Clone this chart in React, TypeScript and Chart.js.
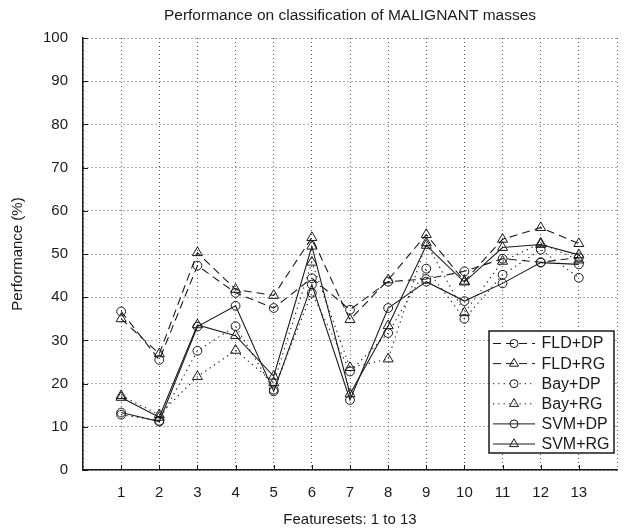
import { useEffect, useRef } from 'react';
import { Chart, registerables } from 'chart.js';

Chart.register(...registerables);

const TITLE = 'Performance on classification of MALIGNANT masses';
const X_TITLE = 'Featuresets: 1 to 13';
const Y_TITLE = 'Performance (%)';

const categories = [1, 2, 3, 4, 5, 6, 7, 8, 9, 10, 11, 12, 13];
const fldDp = [36.7, 25.5, 47.3, 41.0, 37.5, 44.4, 37.1, 43.6, 44.2, 46.0, 48.9, 48.1, 49.2];
const fldRg = [35.0, 26.9, 50.3, 41.8, 40.4, 53.8, 34.8, 44.0, 54.5, 43.7, 53.4, 56.1, 52.4];
const bayDp = [12.8, 11.4, 27.6, 33.3, 18.6, 41.0, 22.8, 31.7, 46.6, 35.0, 45.2, 51.0, 44.5];
const bayRg = [17.2, 12.8, 21.6, 27.7, 20.2, 48.1, 23.7, 25.7, 52.6, 36.4, 48.3, 52.5, 48.6];
const svmDp = [13.3, 11.2, 33.2, 38.0, 18.2, 42.9, 16.2, 37.5, 43.6, 39.1, 43.2, 48.0, 47.6];
const svmRg = [16.8, 12.2, 33.6, 31.1, 21.7, 51.8, 17.6, 33.4, 52.0, 43.5, 51.5, 52.2, 49.8];
const yTicks = [0, 10, 20, 30, 40, 50, 60, 70, 80, 90, 100];

const INK = '#1a1a1a';
const FONT = '"Liberation Sans", Arial, Helvetica, sans-serif';
const DASHED = [8, 5];
const DOTTED = [1.3, 4];

type Series = { label: string; values: number[]; dash: number[]; style: 'circle' | 'triangle' };
const series: Series[] = [
  { label: 'FLD+DP', values: fldDp, dash: DASHED, style: 'circle' },
  { label: 'FLD+RG', values: fldRg, dash: DASHED, style: 'triangle' },
  { label: 'Bay+DP', values: bayDp, dash: DOTTED, style: 'circle' },
  { label: 'Bay+RG', values: bayRg, dash: DOTTED, style: 'triangle' },
  { label: 'SVM+DP', values: svmDp, dash: [], style: 'circle' },
  { label: 'SVM+RG', values: svmRg, dash: [], style: 'triangle' },
];

function marker(ctx: CanvasRenderingContext2D, style: string, x: number, y: number, r: number) {
  ctx.beginPath();
  if (style === 'circle') {
    ctx.arc(x, y, r, 0, Math.PI * 2);
  } else {
    let a = 0;
    ctx.moveTo(x + Math.sin(a) * r, y - Math.cos(a) * r);
    a += (2 * Math.PI) / 3;
    ctx.lineTo(x + Math.sin(a) * r, y - Math.cos(a) * r);
    a += (2 * Math.PI) / 3;
    ctx.lineTo(x + Math.sin(a) * r, y - Math.cos(a) * r);
    ctx.closePath();
  }
  ctx.stroke();
}

const decor = {
  id: 'decor',
  afterDraw(chart: any) {
    const ctx: CanvasRenderingContext2D = chart.ctx;
    const { left, right, bottom } = chart.chartArea;
    const xs = chart.scales.x;
    const ys = chart.scales.y;
    ctx.save();
    // inward tick marks
    ctx.strokeStyle = INK;
    ctx.lineWidth = 1;
    ctx.setLineDash([]);
    ctx.beginPath();
    for (const c of categories) {
      const px = Math.round(xs.getPixelForValue(c)) + 0.5;
      ctx.moveTo(px, bottom);
      ctx.lineTo(px, bottom - 5);
    }
    for (const v of yTicks) {
      const py = Math.round(ys.getPixelForValue(v)) + 0.5;
      ctx.moveTo(left, py);
      ctx.lineTo(left + 5, py);
    }
    ctx.stroke();

    // title
    ctx.fillStyle = INK;
    ctx.font = `15.5px ${FONT}`;
    ctx.textAlign = 'center';
    ctx.textBaseline = 'middle';
    ctx.fillText(TITLE, (left + right) / 2, 15.5);

    // legend
    const bx = 489, by = 331, bw = 125, bh = 122;
    ctx.fillStyle = '#ffffff';
    ctx.fillRect(bx, by, bw, bh);
    ctx.lineWidth = 1.5;
    ctx.strokeRect(bx, by, bw, bh);
    ctx.font = `16px ${FONT}`;
    ctx.textAlign = 'left';
    series.forEach((s, i) => {
      const y = by + 12.5 + i * 20.1;
      ctx.lineWidth = 1;
      ctx.setLineDash(s.dash);
      ctx.beginPath();
      ctx.moveTo(bx + 4, y);
      ctx.lineTo(bx + 46, y);
      ctx.stroke();
      ctx.setLineDash([]);
      marker(ctx, s.style, bx + 25, y, s.style === 'circle' ? 4 : 5.2);
      ctx.fillStyle = INK;
      ctx.fillText(s.label, bx + 52.5, y + 0.5);
    });
    ctx.restore();
  },
};

export default function App() {
  const ref = useRef<HTMLCanvasElement | null>(null);
  useEffect(() => {
    if (!ref.current) return;
    const chart = new Chart(ref.current, {
      type: 'line',
      data: {
        datasets: series.map((s) => ({
          label: s.label,
          data: categories.map((c, i) => ({ x: c, y: s.values[i] })),
          borderColor: INK,
          borderWidth: 1.1,
          borderDash: s.dash,
          backgroundColor: 'rgba(0,0,0,0)',
          pointStyle: s.style,
          pointRadius: s.style === 'circle' ? 4.4 : 5.8,
          pointBorderColor: INK,
          pointBackgroundColor: 'rgba(0,0,0,0)',
          pointBorderWidth: 1,
          tension: 0,
          fill: false,
        })),
      },
      plugins: [decor],
      options: {
        animation: false,
        responsive: false,
        devicePixelRatio: 1,
        layout: { padding: { left: 0, right: 2, top: 38, bottom: 0 } },
        plugins: { legend: { display: false }, title: { display: false }, tooltip: { enabled: false } },
        scales: {
          x: {
            type: 'linear',
            min: 0,
            max: 14,
            afterFit: (scale: any) => {
              scale.height = 60;
            },
            ticks: {
              stepSize: 1,
              autoSkip: false,
              maxRotation: 0,
              padding: 14,
              color: INK,
              font: { family: FONT, size: 15 },
              callback: (v: any) => (categories.includes(Number(v)) ? String(v) : ''),
            },
            grid: { color: '#555', lineWidth: 1, drawTicks: false },
            border: { display: true, color: INK, width: 1.5, dash: [1, 3] },
            title: {
              display: true,
              text: X_TITLE,
              color: INK,
              font: { family: FONT, size: 15 },
              padding: { top: 0, bottom: 1 },
            },
          },
          y: {
            type: 'linear',
            min: 0,
            max: 100,
            afterFit: (scale: any) => {
              scale.width = 83;
            },
            afterBuildTicks: (scale: any) => {
              scale.ticks = yTicks.map((v) => ({ value: v }));
            },
            ticks: {
              padding: 15,
              color: INK,
              font: { family: FONT, size: 15 },
            },
            grid: { color: '#555', lineWidth: 1, drawTicks: false },
            border: { display: true, color: INK, width: 1.5, dash: [1, 3] },
            title: {
              display: true,
              text: Y_TITLE,
              color: INK,
              font: { family: FONT, size: 15 },
              padding: { top: 9, bottom: 0 },
            },
          },
        },
      },
    });
    return () => chart.destroy();
  }, []);
  return (
    <div style={{ position: 'fixed', left: 0, top: 0, width: 631, height: 530, background: '#fff' }}>
      <canvas ref={ref} width={631} height={530} style={{ display: 'block' }} />
    </div>
  );
}
